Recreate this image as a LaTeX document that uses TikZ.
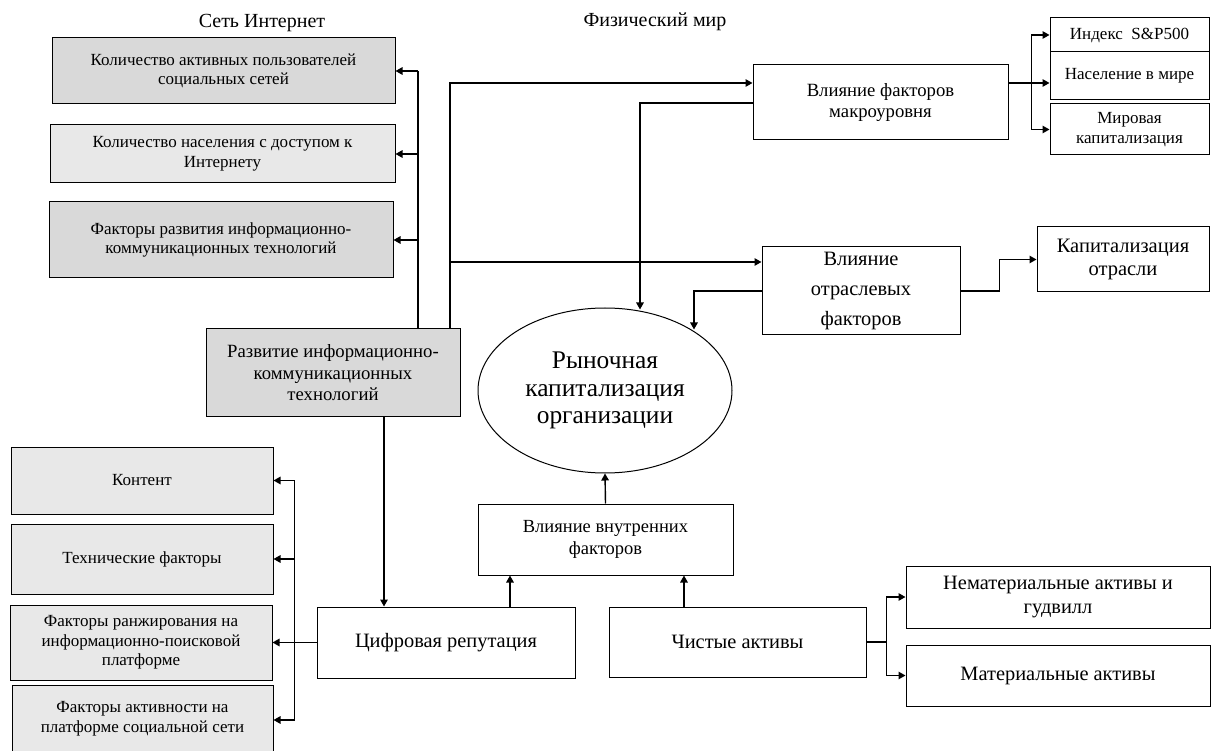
\documentclass[tikz,border=0pt]{standalone}
\usepackage{fontspec}
\setmainfont{Liberation Serif}
\usetikzlibrary{arrows.meta,shapes.geometric}

\definecolor{boxdark}{RGB}{217,217,217}
\definecolor{boxlight}{RGB}{232,232,232}

\tikzset{
    box/.style={draw, line width=1pt, align=center, inner sep=2pt},
    darkbox/.style={box, fill=boxdark},
    lightbox/.style={box, fill=boxlight},
    fs/.style={font=\pgfmathsetmacro\fsskip{#1*1.15}\fontsize{#1}{\fsskip}\selectfont},
    link/.style={line width=1.4pt},
    arr/.style={link, -{Triangle[length=7pt, width=7.5pt]}},
}

\begin{document}
\begin{tikzpicture}[x=1pt, y=-1pt]
    \useasboundingbox (0,0) rectangle (1211,751);

    % заголовки
    \node[fs=20] (inettitle) at (262,23) {Сеть Интернет};
    \node[fs=20] (phystitle) at (655,22) {Физический мир};

    % сеть Интернет
    \node[darkbox, fs=17, minimum width=343pt, minimum height=66pt] (users) at (223.5,71)
        {Количество активных пользователей\\социальных сетей};
    \node[lightbox, fs=17, minimum width=345pt, minimum height=58pt] (access) at (222.5,154)
        {Количество населения с доступом к\\Интернету};
    \node[darkbox, fs=17, minimum width=344pt, minimum height=76pt] (ikt) at (221,240)
        {Факторы развития информационно-\\коммуникационных технологий};
    \node[darkbox, fs=18.7, minimum width=254pt, minimum height=88pt] (razv) at (333,373)
        {Развитие информационно-\\коммуникационных\\технологий};

    % физический мир
    \node[box, fs=18.7, minimum width=255pt, minimum height=75pt] (macro) at (880.5,102.5)
        {Влияние факторов\\макроуровня};
    \node[box, fs=17, minimum width=159pt, minimum height=34pt] (sp) at (1129.5,35) {Индекс \ S\&P500};
    \node[box, fs=17, minimum width=159pt, minimum height=48pt] (pop) at (1129.5,76) {Население в мире};
    \node[box, fs=17, minimum width=159pt, minimum height=51pt] (world) at (1129.5,129.5)
        {Мировая\\капитализация};
    \node[box, font=\fontsize{20.4}{30}\selectfont, minimum width=198pt, minimum height=88pt] (otr) at (861,291)
        {Влияние\\отраслевых\\факторов};
    \node[box, fs=20.5, minimum width=172pt, minimum height=65pt] (kotr) at (1123,259.5)
        {Капитализация\\отрасли};

    % центр
    \node[ellipse, draw, line width=1pt, align=center, font=\fontsize{25.4}{27.5}\selectfont,
        minimum width=254pt, minimum height=165pt, inner sep=0pt] (market) at (605,390.5)
        {Рыночная\\капитализация\\организации};
    \node[box, fs=18.5, minimum width=255pt, minimum height=71pt] (vnutr) at (605.5,539.5)
        {Влияние внутренних\\факторов};
    \node[box, fs=20.4, minimum width=258pt, minimum height=71pt] (cifr) at (446,642.5) {Цифровая репутация};
    \node[box, fs=20.4, minimum width=257pt, minimum height=70pt] (chist) at (737.5,642) {Чистые активы};
    \node[box, fs=20.4, minimum width=304pt, minimum height=62pt] (nemat) at (1058,597)
        {Нематериальные активы и\\гудвилл};
    \node[box, fs=20.4, minimum width=304pt, minimum height=61pt] (mat) at (1058,675.5) {Материальные активы};

    % цифровая репутация
    \node[lightbox, fs=17, minimum width=262pt, minimum height=67pt] (kont) at (142,480.5) {Контент};
    \node[lightbox, fs=17, minimum width=262pt, minimum height=70pt] (tech) at (142,559) {Технические факторы};
    \node[lightbox, fs=17, minimum width=262pt, minimum height=75pt] (rank) at (141,642.5)
        {Факторы ранжирования на\\информационно-поисковой\\платформе};
    \node[lightbox, fs=17, minimum width=261pt, minimum height=68pt] (activ) at (142.5,719)
        {Факторы активности на\\платформе социальной сети};

    % связи: Интернет
    \coordinate (ifork) at ([xshift=85pt]razv.north);
    \draw[link] (ifork) -- (ifork |- users.east);
    \foreach \n in {users,access,ikt}
        \draw[arr] (ifork |- \n.east) -- (\n.east);
    \coordinate (pfork) at ([xshift=117pt]razv.north);
    \coordinate (macroin) at ([yshift=19.5pt]macro.west);
    \coordinate (otrin) at ([yshift=29pt]otr.west);
    \draw[arr] (pfork) |- (macroin);
    \draw[arr] (pfork |- otrin) -- (otrin);

    % связи: физический мир
    \draw[arr] ([yshift=-0.5pt]macro.west) -| ([xshift=35pt,yshift=-2pt]market.north);
    \draw[arr] (otr.west) -| ([xshift=89pt,yshift=-22pt]market.north);
    \coordinate (mfork) at ([xshift=23pt,yshift=19.5pt]macro.east);
    \draw[arr] ([yshift=19.5pt]macro.east) -- (mfork -| pop.west);
    \draw[arr] (mfork) |- (sp.west);
    \draw[arr] (mfork) |- (world.west);
    \draw[arr] (otr.east) -- ++(39pt,0) |- (kotr.west);

    % связи: внутренние факторы
    \draw[arr] ([xshift=51pt]razv.south) -- ([xshift=51pt]razv.south |- cifr.north);
    \coordinate (cfork) at ([xshift=-22pt]cifr.west);
    \coordinate (activin) at ([yshift=-1pt]activ.east);
    \draw[link] (cifr.west) -- (cfork);
    \draw[link] (cfork |- kont.east) -- (cfork |- activin);
    \foreach \n in {kont,tech,rank,activin}
        \draw[arr] (cfork |- \n.east) -- (\n.east);
    \draw[arr] ([xshift=64pt]cifr.north) -- ([xshift=64pt]cifr.north |- vnutr.south);
    \draw[arr] ([xshift=-53.5pt]chist.north) -- ([xshift=-53.5pt]chist.north |- vnutr.south);
    \draw[arr] (vnutr.north) -- (market.south);
    \coordinate (afork) at ([xshift=20pt]chist.east);
    \draw[link] (chist.east) -- (afork);
    \draw[arr] (afork) |- (nemat.west);
    \draw[arr] (afork) |- (mat.west);
\end{tikzpicture}
\end{document}
